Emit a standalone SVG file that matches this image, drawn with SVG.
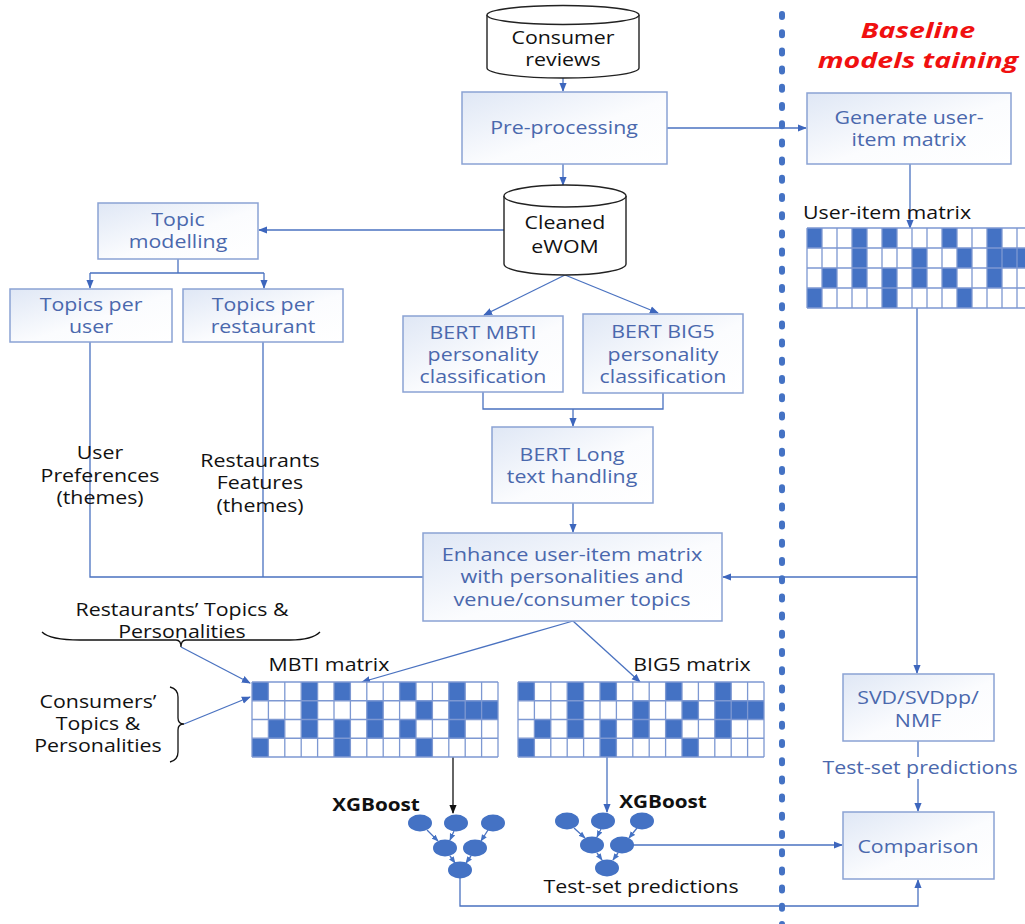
<svg xmlns="http://www.w3.org/2000/svg" xmlns:xlink="http://www.w3.org/1999/xlink" width="1025" height="924" viewBox="0 0 1025 924">
<style>
.box{fill:url(#bg);stroke:#8aa2d4;stroke-width:1.5}
.cyl{fill:#fff;stroke:#222;stroke-width:1.4}
.bt{font-family:"Open Sans","Noto Sans",sans-serif;font-size:17.5px;fill:#4a68ad;text-anchor:middle}
.kt{font-family:"Open Sans","Noto Sans",sans-serif;font-size:17.5px;fill:#111;text-anchor:middle}
.xg{font-family:"Open Sans","Noto Sans",sans-serif;font-size:17px;font-weight:bold;fill:#111;text-anchor:middle}
.rd{font-family:"Open Sans","Noto Sans",sans-serif;font-size:22px;font-weight:bold;font-style:italic;fill:#f01010;text-anchor:middle}
.ln{fill:none;stroke:#4a72c0;stroke-width:1.3}
.lk{fill:none;stroke:#111;stroke-width:1.3}
.nd{fill:#4472c4}
.gl{fill:none;stroke:#7d98d2;stroke-width:1.3;vector-effect:non-scaling-stroke}
</style>
<defs>
<linearGradient id="bg" x1="0" y1="0" x2="1" y2="1">
<stop offset="0" stop-color="#dfe7f5"/>
<stop offset="0.55" stop-color="#fbfcfe"/>
<stop offset="1" stop-color="#ffffff"/>
</linearGradient>
<marker id="a" viewBox="0 0 10 10" refX="9" refY="5" markerWidth="9" markerHeight="9" markerUnits="userSpaceOnUse" orient="auto"><path d="M0,1 L10,5 L0,9 z" fill="#3d66bd"/></marker>
<marker id="ak" viewBox="0 0 10 10" refX="9" refY="5" markerWidth="9" markerHeight="9" markerUnits="userSpaceOnUse" orient="auto"><path d="M0,1 L10,5 L0,9 z" fill="#111"/></marker>
<marker id="as" viewBox="0 0 10 10" refX="9" refY="5" markerWidth="7" markerHeight="7" markerUnits="userSpaceOnUse" orient="auto"><path d="M0,1 L10,5 L0,9 z" fill="#4472c4"/></marker>
<g id="mx">
<rect x="0" y="0" width="15" height="4" fill="#fff"/>
<g fill="#4472c4">
<rect x="0" y="0" width="1" height="1"/><rect x="3" y="0" width="1" height="1"/><rect x="5" y="0" width="1" height="1"/><rect x="9" y="0" width="1" height="1"/><rect x="12" y="0" width="1" height="1"/>
<rect x="3" y="1" width="1" height="1"/><rect x="7" y="1" width="1" height="1"/><rect x="10" y="1" width="1" height="1"/><rect x="12" y="1" width="3" height="1"/>
<rect x="1" y="2" width="1" height="1"/><rect x="3" y="2" width="1" height="1"/><rect x="5" y="2" width="1" height="1"/><rect x="7" y="2" width="1" height="1"/><rect x="9" y="2" width="1" height="1"/><rect x="12" y="2" width="1" height="1"/>
<rect x="0" y="3" width="1" height="1"/><rect x="5" y="3" width="1" height="1"/><rect x="10" y="3" width="1" height="1"/>
</g>
<path class="gl" d="M0,0H15M0,1H15M0,2H15M0,3H15M0,4H15M0,0V4M1,0V4M2,0V4M3,0V4M4,0V4M5,0V4M6,0V4M7,0V4M8,0V4M9,0V4M10,0V4M11,0V4M12,0V4M13,0V4M14,0V4M15,0V4"/>
</g>
</defs>
<rect width="1025" height="924" fill="#fff"/>

<g id="connectors">
<path class="ln" d="M563,78V91" marker-end="url(#a)"/>
<path class="ln" d="M563,164V185" marker-end="url(#a)"/>
<path class="ln" d="M667,128H806" marker-end="url(#a)"/>
<path class="ln" d="M504,230H259" marker-end="url(#a)"/>
<path class="ln" d="M178,259V273M90,273H264"/>
<path class="ln" d="M90,273V288" marker-end="url(#a)"/>
<path class="ln" d="M264,273V288" marker-end="url(#a)"/>
<path class="ln" d="M565,275L484,315" marker-end="url(#a)"/>
<path class="ln" d="M565,275L658,313" marker-end="url(#a)"/>
<path class="ln" d="M483,392V409H663V393"/>
<path class="ln" d="M573,409V426" marker-end="url(#a)"/>
<path class="ln" d="M573,503V532" marker-end="url(#a)"/>
<path class="ln" d="M90,342V577H423M263,342V577"/>
<path class="ln" d="M910,164V228" marker-end="url(#a)"/>
<path class="ln" d="M917,308V673" marker-end="url(#a)"/>
<path class="ln" d="M917,577H723" marker-end="url(#a)"/>
<path class="ln" d="M918,741V757"/>
<path class="ln" d="M918,779V811" marker-end="url(#a)"/>
<path class="ln" d="M573,621L362,682" marker-end="url(#a)"/>
<path class="ln" d="M573,621L640,682" marker-end="url(#a)"/>
<path class="lk" d="M42,632Q50,640 80,640H176Q181,640 181,647Q181,640 186,640H290Q312,640 320,632"/>
<path class="lk" d="M170,687Q178,689 178,697V718Q178,724 184,724Q178,724 178,730V752Q178,760 170,762"/>
<path class="ln" d="M181,647L250,683" marker-end="url(#a)"/>
<path class="ln" d="M184,724L250,697" marker-end="url(#a)"/>
<path class="lk" d="M453,757V813" marker-end="url(#ak)"/>
<path class="ln" d="M607,757V812" marker-end="url(#a)"/>
<path class="ln" d="M633,845H842" marker-end="url(#a)"/>
<path class="ln" d="M460,878V906H918V880" marker-end="url(#a)"/>
<g class="ln">
<path d="M427,830L438,841" marker-end="url(#as)"/>
<path d="M454,831L450,840" marker-end="url(#as)"/>
<path d="M488,830L481,841" marker-end="url(#as)"/>
<path d="M450,856L455,863" marker-end="url(#as)"/>
<path d="M471,856L466,863" marker-end="url(#as)"/>
<path d="M574,828L585,838" marker-end="url(#as)"/>
<path d="M601,829L597,837" marker-end="url(#as)"/>
<path d="M637,828L629,838" marker-end="url(#as)"/>
<path d="M597,853L602,860" marker-end="url(#as)"/>
<path d="M618,853L613,860" marker-end="url(#as)"/>
</g>
</g>

<g id="consumer-reviews">
<path class="cyl" d="M487,15V68A76,10 0 0 0 639,68V15"/>
<ellipse class="cyl" cx="563" cy="15" rx="76" ry="9.5"/>
<text class="kt" transform="translate(563 44) scale(1.22 1)">Consumer</text>
<text class="kt" transform="translate(563 66) scale(1.22 1)">reviews</text>
</g>
<g id="pre-processing">
<rect class="box" x="462" y="92" width="205" height="72"/>
<text class="bt" transform="translate(564 134) scale(1.22 1)">Pre-processing</text>
</g>
<g id="cleaned-ewom">
<path class="cyl" d="M504,196V264A61,11 0 0 0 626,264V196"/>
<ellipse class="cyl" cx="565" cy="196" rx="61" ry="11"/>
<text class="kt" transform="translate(565 229) scale(1.22 1)">Cleaned</text>
<text class="kt" transform="translate(565 253) scale(1.22 1)">eWOM</text>
</g>
<g id="topic-modelling">
<rect class="box" x="98" y="203" width="160" height="56"/>
<text class="bt" transform="translate(178 226) scale(1.22 1)">Topic</text>
<text class="bt" transform="translate(178 248) scale(1.22 1)">modelling</text>
</g>
<g id="topics-user">
<rect class="box" x="10" y="289" width="162" height="53"/>
<text class="bt" transform="translate(91 311) scale(1.22 1)">Topics per</text>
<text class="bt" transform="translate(91 333) scale(1.22 1)">user</text>
</g>
<g id="topics-restaurant">
<rect class="box" x="183" y="289" width="160" height="53"/>
<text class="bt" transform="translate(263 311) scale(1.22 1)">Topics per</text>
<text class="bt" transform="translate(263 333) scale(1.22 1)">restaurant</text>
</g>
<g id="bert-mbti">
<rect class="box" x="403" y="316" width="160" height="76"/>
<text class="bt" transform="translate(483 339) scale(1.22 1)">BERT MBTI</text>
<text class="bt" transform="translate(483 361) scale(1.22 1)">personality</text>
<text class="bt" transform="translate(483 383) scale(1.22 1)">classification</text>
</g>
<g id="bert-big5">
<rect class="box" x="583" y="314" width="160" height="79"/>
<text class="bt" transform="translate(663 338) scale(1.22 1)">BERT BIG5</text>
<text class="bt" transform="translate(663 361) scale(1.22 1)">personality</text>
<text class="bt" transform="translate(663 383) scale(1.22 1)">classification</text>
</g>
<g id="bert-long">
<rect class="box" x="492" y="427" width="161" height="76"/>
<text class="bt" transform="translate(572 461) scale(1.22 1)">BERT Long</text>
<text class="bt" transform="translate(572 483) scale(1.22 1)">text handling</text>
</g>
<g id="enhance">
<rect class="box" x="423" y="533" width="299" height="88"/>
<text class="bt" transform="translate(572 561) scale(1.24 1)">Enhance user-item matrix</text>
<text class="bt" transform="translate(572 583) scale(1.24 1)">with personalities and</text>
<text class="bt" transform="translate(572 606) scale(1.24 1)">venue/consumer topics</text>
</g>
<g id="generate">
<rect class="box" x="807" y="93" width="204" height="71"/>
<text class="bt" transform="translate(909 124) scale(1.22 1)">Generate user-</text>
<text class="bt" transform="translate(909 146) scale(1.22 1)">item matrix</text>
</g>
<g id="svd">
<rect class="box" x="843" y="674" width="151" height="67"/>
<text class="bt" transform="translate(918 704) scale(1.22 1)">SVD/SVDpp/</text>
<text class="bt" transform="translate(918 727) scale(1.22 1)">NMF</text>
</g>
<g id="comparison">
<rect class="box" x="843" y="812" width="151" height="67"/>
<text class="bt" transform="translate(918 853) scale(1.22 1)">Comparison</text>
</g>

<g id="user-item-matrix">
<use xlink:href="#mx" transform="translate(807 228) scale(15 20)"/>
<text class="kt" transform="translate(887 219) scale(1.22 1)">User-item matrix</text>
</g>
<g id="mbti-matrix">
<use xlink:href="#mx" transform="translate(252 682) scale(16.4 18.75)"/>
<text class="kt" transform="translate(329 671) scale(1.22 1)">MBTI matrix</text>
</g>
<g id="big5-matrix">
<use xlink:href="#mx" transform="translate(518 682) scale(16.4 18.75)"/>
<text class="kt" transform="translate(692 671) scale(1.22 1)">BIG5 matrix</text>
</g>

<g id="xgboost-left">
<ellipse class="nd" cx="420" cy="823" rx="12" ry="8.5"/>
<ellipse class="nd" cx="456" cy="823" rx="12" ry="8.5"/>
<ellipse class="nd" cx="493" cy="823" rx="12" ry="8.5"/>
<ellipse class="nd" cx="445" cy="848" rx="12" ry="8.5"/>
<ellipse class="nd" cx="475" cy="848" rx="12" ry="8.5"/>
<ellipse class="nd" cx="460" cy="870" rx="12" ry="8.5"/>
<text class="xg" transform="translate(376 811) scale(1.22 1)">XGBoost</text>
</g>
<g id="xgboost-right">
<ellipse class="nd" cx="567" cy="821" rx="12" ry="8.5"/>
<ellipse class="nd" cx="603" cy="821" rx="12" ry="8.5"/>
<ellipse class="nd" cx="642" cy="821" rx="12" ry="8.5"/>
<ellipse class="nd" cx="592" cy="845" rx="12" ry="8.5"/>
<ellipse class="nd" cx="622" cy="845" rx="12" ry="8.5"/>
<ellipse class="nd" cx="607" cy="868" rx="12" ry="8.5"/>
<text class="xg" transform="translate(663 808) scale(1.22 1)">XGBoost</text>
</g>

<g id="labels">
<text class="kt" transform="translate(100 459) scale(1.22 1)">User</text>
<text class="kt" transform="translate(100 482) scale(1.22 1)">Preferences</text>
<text class="kt" transform="translate(100 504) scale(1.22 1)">(themes)</text>
<text class="kt" transform="translate(260 467) scale(1.22 1)">Restaurants</text>
<text class="kt" transform="translate(260 489) scale(1.22 1)">Features</text>
<text class="kt" transform="translate(260 512) scale(1.22 1)">(themes)</text>
<text class="kt" transform="translate(182 616) scale(1.22 1)">Restaurants’ Topics &amp;</text>
<text class="kt" transform="translate(182 638) scale(1.22 1)">Personalities</text>
<text class="kt" transform="translate(98 708) scale(1.22 1)">Consumers’</text>
<text class="kt" transform="translate(98 730) scale(1.22 1)">Topics &amp;</text>
<text class="kt" transform="translate(98 752) scale(1.22 1)">Personalities</text>
<text class="kt" transform="translate(641 893) scale(1.22 1)">Test-set predictions</text>
<text class="bt" transform="translate(920 774) scale(1.22 1)">Test-set predictions</text>
<text class="rd" transform="translate(918 38) scale(1.3 1)">Baseline</text>
<text class="rd" transform="translate(918 68) scale(1.3 1)">models taining</text>
</g>

<line id="divider" x1="782" y1="14" x2="782" y2="924" stroke="#4472c4" stroke-width="6" stroke-linecap="round" stroke-dasharray="3 15.2"/>
</svg>
